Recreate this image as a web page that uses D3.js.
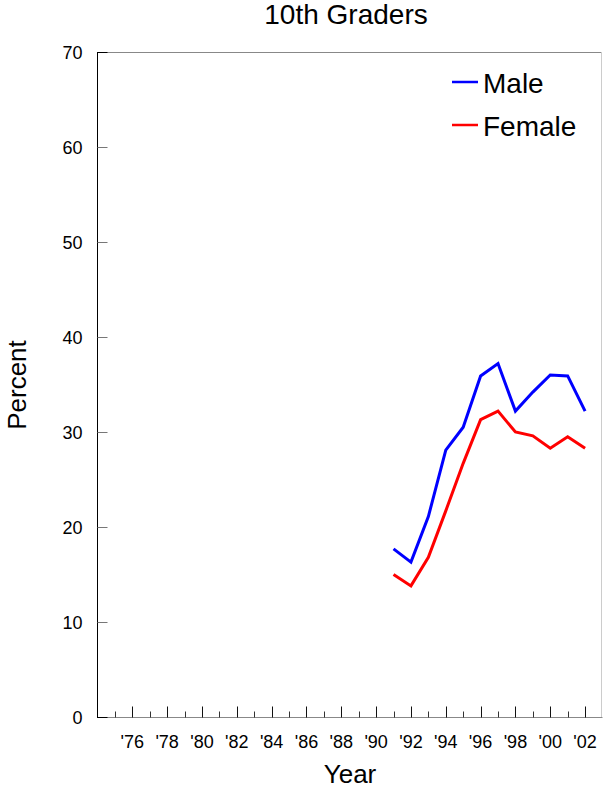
<!DOCTYPE html>
<html>
<head>
<meta charset="utf-8">
<script src="https://cdn.jsdelivr.net/npm/d3@7"></script>
<style>
body{margin:0;background:#fff;}
svg{display:block;font-family:"Liberation Sans",Arial,sans-serif;}
</style>
</head>
<body>
<svg id="chart" width="603" height="788"></svg>
<script>
const years = [1991,1992,1993,1994,1995,1996,1997,1998,1999,2000,2001,2002];
const male = [17.7,16.3,21.1,28.1,30.5,35.9,37.2,32.2,34.2,36.0,35.9,32.2];
const female = [15.0,13.8,16.8,21.7,26.7,31.3,32.2,30.0,29.6,28.3,29.5,28.3];
const yTicks = [0,10,20,30,40,50,60,70];
const xMajor = [1976,1978,1980,1982,1984,1986,1988,1990,1992,1994,1996,1998,2000,2002];
const xMinor = [1975,1977,1979,1981,1983,1985,1987,1989,1991,1993,1995,1997,1999,2001];
const series = [{name:"Male",values:male,color:"#0000ff"},{name:"Female",values:female,color:"#ff0000"}];

const svg = d3.select("#chart");
const L = 97.5, R = 602.5, T = 52, B = 717;
const x = d3.scaleLinear().domain([1974,2003]).range([L,R]);
const y = d3.scaleLinear().domain([0,70]).range([B,T]);

// frame (top and right)
svg.append("line").attr("x1",L).attr("x2",R-1).attr("y1",T+0.5).attr("y2",T+0.5).attr("stroke","#888");
svg.append("line").attr("x1",R-1).attr("x2",R-1).attr("y1",T).attr("y2",B).attr("stroke","#ccc");

// x axis
const gx = svg.append("g").attr("transform",`translate(0,${B+0.5})`);
gx.append("line").attr("x1",L).attr("x2",R).attr("stroke","#888");
gx.selectAll(".maj").data(xMajor).join("line").attr("x1",d=>Math.round(x(d))+0.5).attr("x2",d=>Math.round(x(d))+0.5)
  .attr("y1",0).attr("y2",-11).attr("stroke","#111");
gx.selectAll(".min").data(xMinor).join("line").attr("x1",d=>Math.round(x(d))+0.5).attr("x2",d=>Math.round(x(d))+0.5)
  .attr("y1",0).attr("y2",-6).attr("stroke","#333");
gx.selectAll("text").data(xMajor).join("text").attr("x",d=>x(d)).attr("y",30)
  .attr("text-anchor","middle").attr("font-size",18).text(d=>"'"+String(d).slice(2));

// y axis
const gy = svg.append("g").attr("transform",`translate(${L},0)`);
gy.append("line").attr("y1",T).attr("y2",B+1).attr("stroke","#000");
gy.selectAll("line.t").data(yTicks).join("line").attr("class","t").attr("x1",0).attr("x2",10)
  .attr("y1",d=>Math.round(y(d))+0.5).attr("y2",d=>Math.round(y(d))+0.5).attr("stroke",d=>(d===0||d===70)?"#000":"#777");
gy.selectAll("text").data(yTicks).join("text").attr("x",-15).attr("y",d=>y(d)+6.5)
  .attr("text-anchor","end").attr("font-size",18).text(d=>d);

// lines
const line = d3.line().x((d,i)=>x(years[i])).y(d=>y(d));
svg.selectAll("path.s").data(series).join("path").attr("class","s")
  .attr("d",d=>line(d.values)).attr("fill","none").attr("stroke",d=>d.color).attr("stroke-width",3).attr("stroke-linejoin","miter");

// legend
const lg = svg.selectAll("g.lg").data(series).join("g").attr("class","lg")
  .attr("transform",(d,i)=>`translate(452,${82+i*43})`);
lg.append("line").attr("x1",0).attr("x2",26).attr("stroke",d=>d.color).attr("stroke-width",2.5);
lg.append("text").attr("x",31).attr("y",10.5).attr("font-size",28).text(d=>d.name);

// titles
svg.append("text").attr("x",346).attr("y",24).attr("text-anchor","middle").attr("font-size",28).text("10th Graders");
svg.append("text").attr("x",350).attr("y",783).attr("text-anchor","middle").attr("font-size",26).text("Year");
svg.append("text").attr("transform","translate(26,385) rotate(-90)").attr("text-anchor","middle").attr("font-size",26).text("Percent");
</script>
</body>
</html>
